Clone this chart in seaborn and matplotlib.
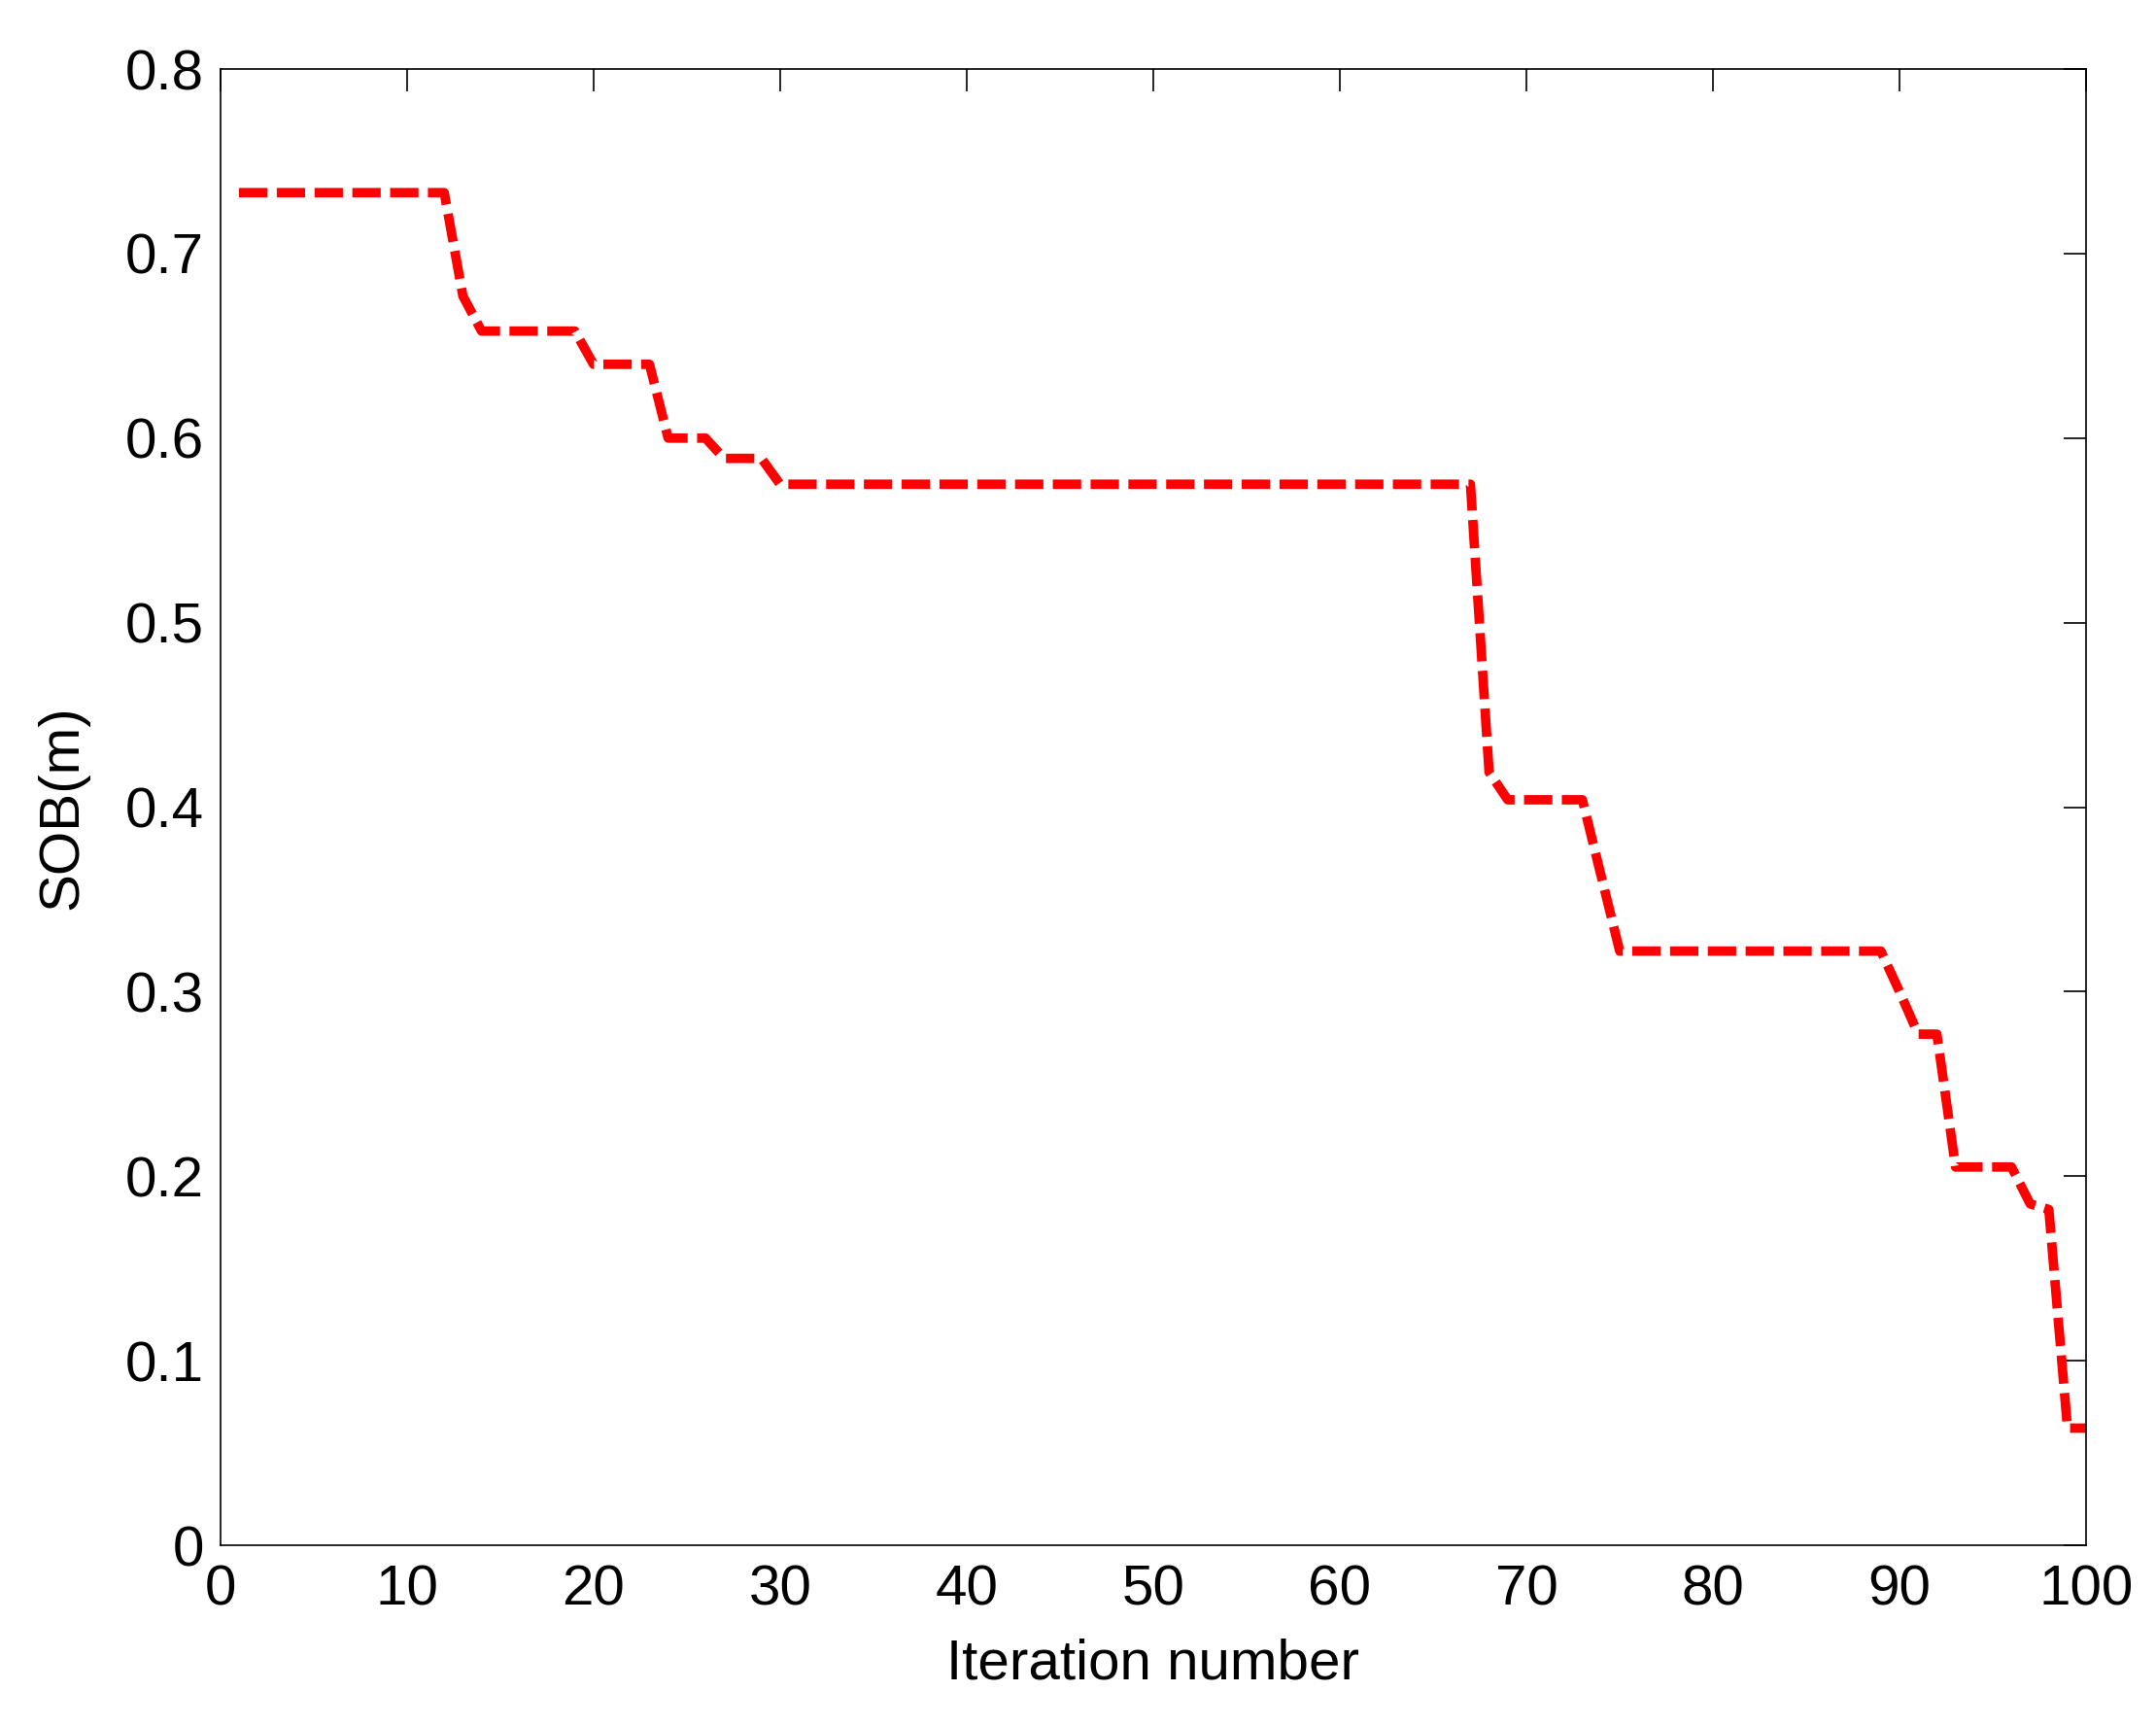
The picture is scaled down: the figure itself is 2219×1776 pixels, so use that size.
import matplotlib
matplotlib.use("Agg")
import matplotlib.pyplot as plt
import numpy as np
import pandas as pd
import seaborn as sns

sns.set_style("white")
plt.rcParams['font.family'] = ['Liberation Sans', 'DejaVu Sans']

# step values
iterations = list(range(1, 101))
sob_values = (
    [0.733] * 12 +          # 1-12
    [0.677] +               # 13
    [0.658] * 6 +           # 14-19
    [0.640] * 4 +           # 20-23
    [0.600] * 3 +           # 24-26
    [0.589] * 3 +           # 27-29
    [0.575] * 38 +          # 30-67
    [0.419] +               # 68
    [0.404] * 5 +           # 69-73
    [0.363] +               # 74
    [0.322] * 15 +          # 75-89
    [0.300] +               # 90
    [0.277] * 2 +           # 91-92
    [0.205] * 4 +           # 93-96
    [0.185, 0.182] +        # 97-98
    [0.0635] * 2            # 99-100
)
x_ticks = [0, 10, 20, 30, 40, 50, 60, 70, 80, 90, 100]
y_ticks = [0, 0.1, 0.2, 0.3, 0.4, 0.5, 0.6, 0.7, 0.8]
y_tick_labels = ['0', '0.1', '0.2', '0.3', '0.4', '0.5', '0.6', '0.7', '0.8']

df = pd.DataFrame({'iter': iterations, 'sob': sob_values})

fig = plt.figure(figsize=(22.19, 17.76), dpi=100)
ax = fig.add_axes([0.1022, 0.1047, 0.8654, 0.8553])

sns.lineplot(data=df, x='iter', y='sob', ax=ax, color='#ff0000',
             linewidth=7, estimator=None)
ax.lines[0].set_dashes([3.0, 1.0])
ax.lines[0].set_dash_capstyle('butt')

ax.set_xlim(0, 100)
ax.set_ylim(0, 0.8)
ax.set_xticks(x_ticks)
ax.set_yticks(y_ticks)
ax.set_yticklabels(y_tick_labels)

ax.tick_params(direction='in', length=16.5, width=1.2, labelsize=42,
               top=True, right=True, colors='black')
ax.tick_params(axis='x', pad=14)
ax.tick_params(axis='y', pad=12)
for sp in ax.spines.values():
    sp.set_visible(True)
    sp.set_color('black')
    sp.set_linewidth(1.2)

ax.set_xlabel('Iteration number', fontsize=42, labelpad=16, color='black')
ax.set_ylabel('SOB(m)', fontsize=42, labelpad=27, color='black')

plt.savefig('out.png', dpi=100)
plt.close()
